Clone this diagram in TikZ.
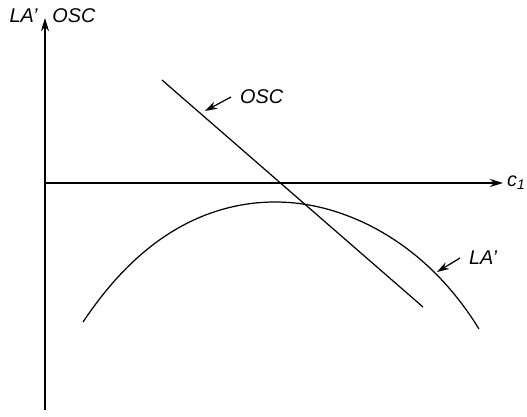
\documentclass[tikz,border=0pt]{standalone}
\usepackage{fontspec}
\setmainfont{Liberation Sans}
\usepackage{tikz}
\usetikzlibrary{arrows.meta, positioning, calc}

\begin{document}
\begin{tikzpicture}[
      x=0.02cm, y=-0.02cm,
      axis/.style={line width=0.75pt, -{Stealth[length=7.5pt, width=4.6pt]}},
      curve/.style={line width=0.7pt},
      pointer/.style={line width=0.7pt, -{Stealth[length=7pt, width=4.4pt]}},
      lbl/.style={font=\fontsize{11.3}{13}\selectfont\itshape, inner sep=5pt}
    ]
    \useasboundingbox (0,0) rectangle (527,416);
    % axes
    \coordinate (O) at (45,183);
    \coordinate (ybot) at (45,410);
    \coordinate (ytop) at (45,18);
    \coordinate (xend) at (503,183);
    \draw[axis] (ybot) -- (ytop);
    \draw[axis] (O) -- (xend);
    \node[lbl, anchor=west, inner sep=2.2pt] (xlab) at (xend) {c\textsubscript{1}};
    \node[lbl, anchor=east, inner sep=4pt] (ylabA) at (45,16) {LA'};
    \node[lbl, anchor=west, inner sep=4pt] (ylabB) at (45,16) {OSC};
    % OSC line
    \coordinate (oscA) at (162,80);
    \coordinate (oscB) at (423,307);
    \draw[curve] (oscA) -- (oscB);
    % LA' curve (u = distance from the top / 100)
    \draw[curve]
      plot[domain=-1.92:0, samples=50]
        ({275+100*\x}, {202+26.13*\x*\x+1.744*\x*\x*\x*\x})
      -- plot[domain=0:2.04, samples=50]
        ({275+100*\x}, {202+26*\x*\x+0.26*\x*\x*\x*\x*\x*\x});
    % pointers
    \coordinate (oscTip) at (205,111);
    \coordinate (laTip) at (437,272);
    \node[lbl, anchor=west] (labOSC) at (231,97) {OSC};
    \node[lbl, anchor=west] (labLA) at (460,258) {LA'};
    \draw[pointer] (labOSC.west) -- (oscTip);
    \draw[pointer] (labLA.west) -- (laTip);
\end{tikzpicture}
\end{document}
